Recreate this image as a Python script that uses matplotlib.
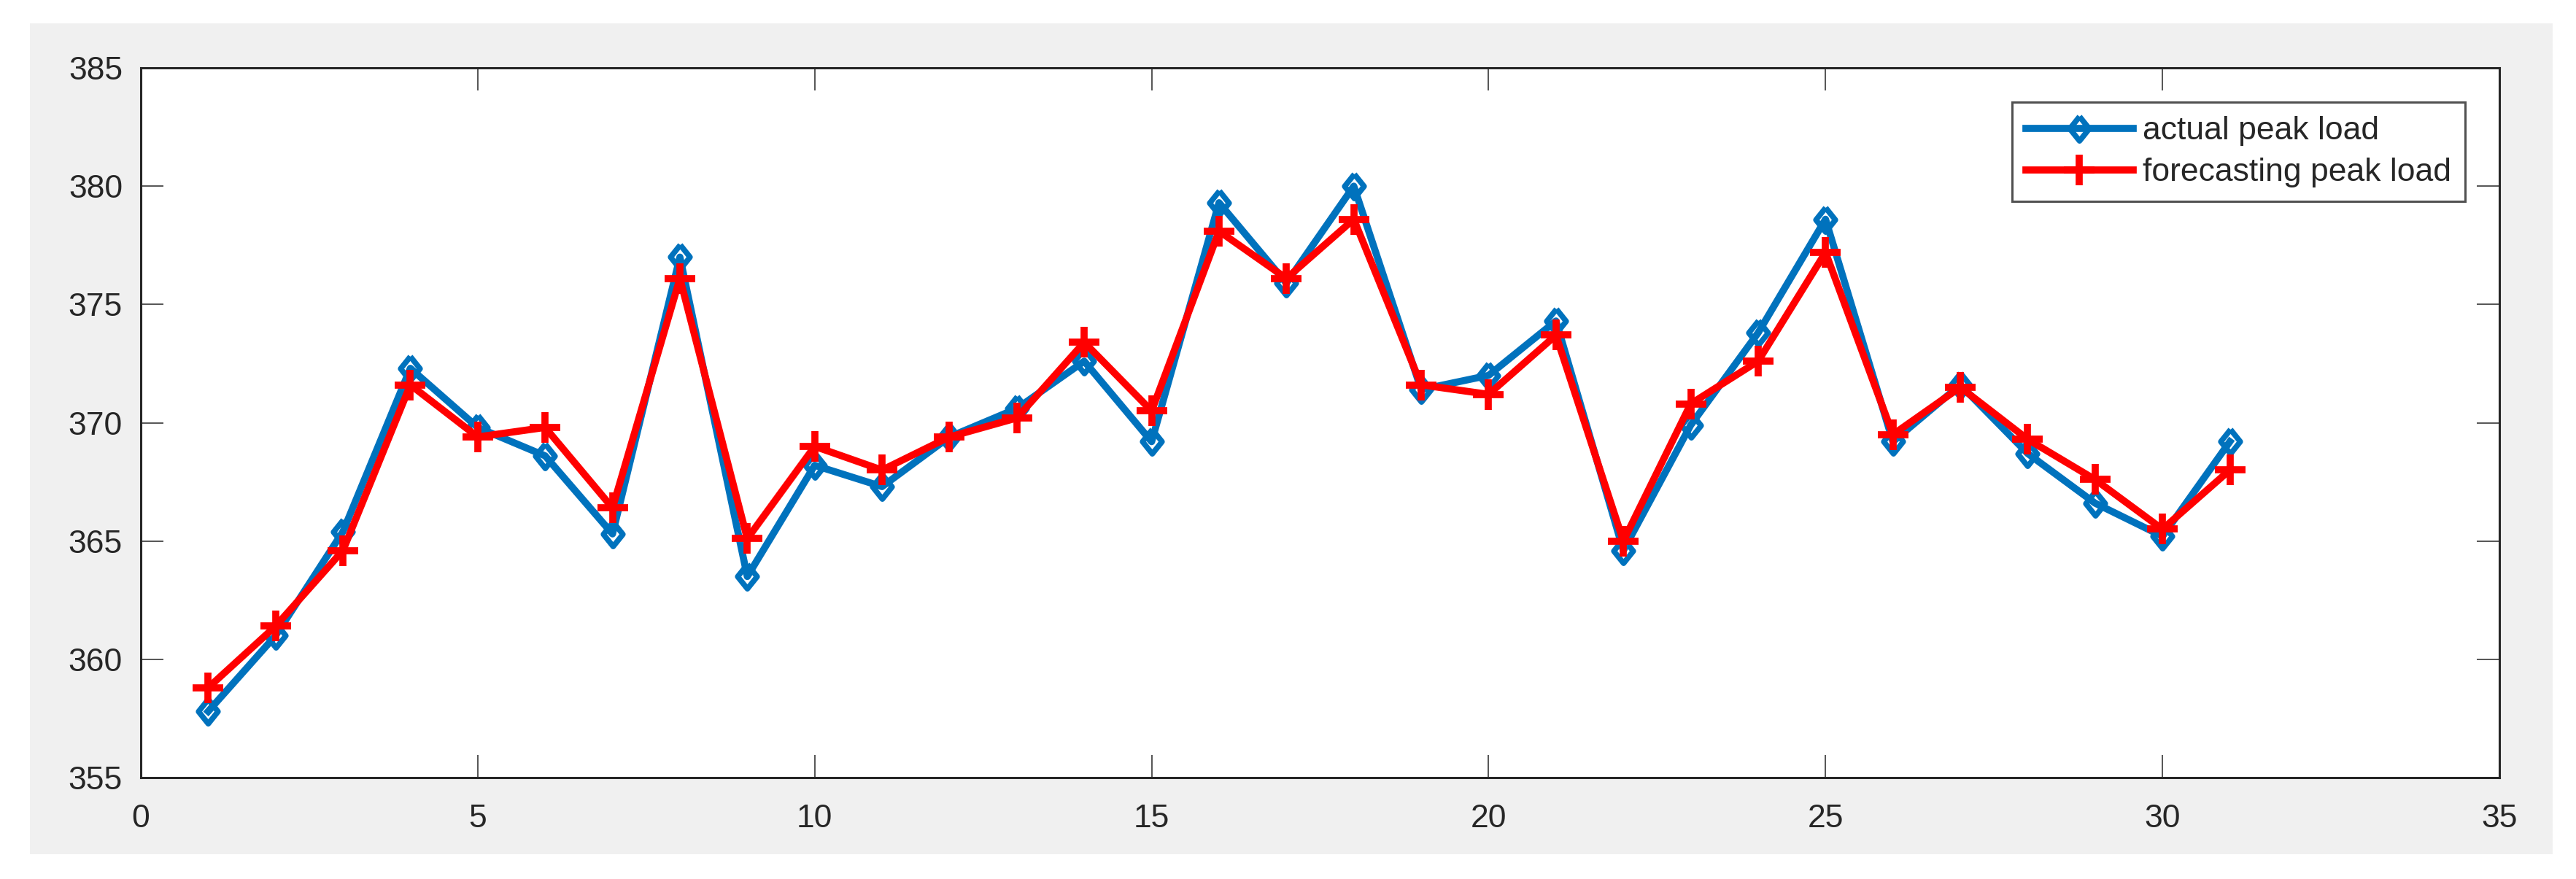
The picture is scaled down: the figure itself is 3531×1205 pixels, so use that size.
import matplotlib
matplotlib.use("Agg")
import matplotlib.pyplot as plt
from matplotlib.patches import Rectangle

# ---------------------------------------------------------------------------
# Data
# ---------------------------------------------------------------------------
days = list(range(1, 32))
actual = [357.8, 361.0, 365.4, 372.3, 369.8, 368.6, 365.3, 377.0, 363.5, 368.2,
          367.3, 369.4, 370.6, 372.6, 369.2, 379.3, 375.9, 380.0, 371.4, 372.0,
          374.3, 364.6, 369.9, 373.8, 378.6, 369.2, 371.6, 368.7, 366.6, 365.2,
          369.2]
forecast = [358.8, 361.4, 364.6, 371.6, 369.4, 369.8, 366.4, 376.1, 365.1, 369.0,
            368.0, 369.4, 370.2, 373.4, 370.5, 378.1, 376.1, 378.6, 371.6, 371.2,
            373.7, 365.0, 370.8, 372.6, 377.2, 369.5, 371.5, 369.3, 367.6, 365.5,
            368.0]
labels = ["actual peak load", "forecasting peak load"]
x_ticks = [0, 5, 10, 15, 20, 25, 30, 35]
y_ticks = [355, 360, 365, 370, 375, 380, 385]

plt.rcParams["font.family"] = ["Liberation Sans", "DejaVu Sans"]

W, H = 3531, 1205
fig = plt.figure(figsize=(W / 100, H / 100), dpi=100, facecolor="white")

# grey MATLAB-like figure panel (behind the axes)
fig.patches.append(Rectangle((41 / W, 1 - 1171 / H), (3499 - 41) / W, (1171 - 32) / H,
                             transform=fig.transFigure, facecolor="#f0f0f0",
                             edgecolor="none", zorder=-10))

ax = fig.add_axes([193 / W, 1 - 1066 / H, (3426 - 193) / W, (1066 - 93) / H])
ax.set_zorder(1)
ax.set_facecolor("white")

diamond = [(0, 1), (0.8, 0), (0, -1), (-0.8, 0), (0, 1)]
ax.plot(days, actual, color="#0072BD", lw=7, marker=diamond, ms=24,
        mfc="none", mec="#0072BD", mew=5.5, label=labels[0], zorder=3)
ax.plot(days, forecast, color="#FF0000", lw=7, marker="+", ms=30,
        mec="#FF0000", mew=7, label=labels[1], zorder=4)

ax.set_xlim(0, 35)
ax.set_ylim(355, 385)
ax.set_xticks(x_ticks)
ax.set_yticks(y_ticks)

for s in ax.spines.values():
    s.set_linewidth(2.2)
    s.set_color("#262626")

ax.tick_params(axis="both", direction="in", length=22, width=1.1, colors="#262626",
               labelsize=32, top=True, right=True)
ax.tick_params(axis="x", pad=26)
ax.tick_params(axis="y", pad=18)

leg = ax.legend(loc="upper right", bbox_to_anchor=(3379 / W, 1 - 140 / H),
                bbox_transform=fig.transFigure, borderaxespad=0, fontsize=32,
                frameon=True, fancybox=False, handlelength=3.3, handletextpad=0.3,
                labelspacing=0.36, borderpad=0.43)
leg.get_frame().set_edgecolor("#262626")
leg.get_frame().set_linewidth(2.2)
for t in leg.get_texts():
    t.set_color("#262626")

fig.savefig("out.png", dpi=100, facecolor="white")
